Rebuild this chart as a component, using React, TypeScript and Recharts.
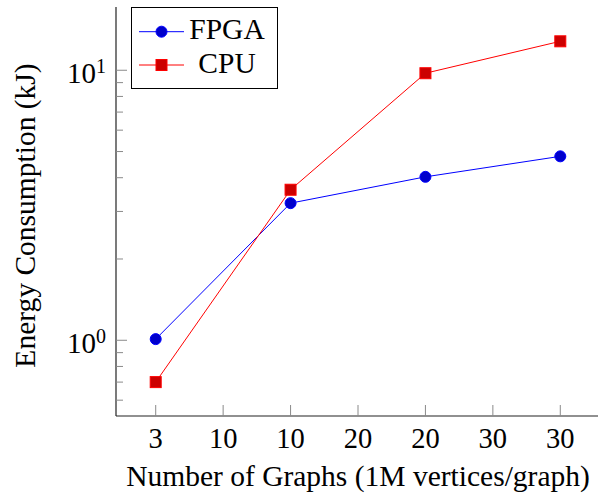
import React from 'react';
import { LineChart, Line, XAxis, YAxis, Legend } from 'recharts';

// ---- data ----
const categories = ['3', '10', '20', '30'];
const xTickLabels = ['3', '10', '10', '20', '20', '30', '30'];
const fpgaValues = [1.01, 3.22, 4.03, 4.8];
const cpuValues = [0.7, 3.61, 9.75, 12.8];
const yMajorTicks = [1, 10];
const yMajorExponents = ['0', '1'];
const yMinorTicks = [0.6, 0.7, 0.8, 0.9, 2, 3, 4, 5, 6, 7, 8, 9];
const seriesNames = ['FPGA', 'CPU'];

const data = categories.map((c, i) => ({ idx: i, label: c, fpga: fpgaValues[i], cpu: cpuValues[i] }));
const xTicks = xTickLabels.map((_, i) => i / 2);
const yTicks = [...yMajorTicks, ...yMinorTicks].sort((a, b) => a - b);

const FONT = '"Liberation Serif", "Times New Roman", serif';
const TICK_COLOR = '#8a8a8a';
const AXIS_COLOR = '#222';
const BLUE = '#0000ff';
const BLUE_FILL = '#0000cc';
const RED = '#ff0000';
const RED_FILL = '#cc0000';
const MARK_R = 5.5;

const BottomTick = (props: any) => {
  const { x, y, payload } = props;
  const label = xTickLabels[Math.round(payload.value * 2)];
  return (
    <g>
      <line x1={x} x2={x} y1={y} y2={y - 11} stroke={TICK_COLOR} strokeWidth={1} />
      <text x={x} y={y + 32} textAnchor="middle" fontSize={28.5} fontFamily={FONT} fill="#000">
        {label}
      </text>
    </g>
  );
};

const TopTick = (props: any) => {
  const { x, y } = props;
  return <line x1={x} x2={x} y1={y} y2={y + 11} stroke={TICK_COLOR} strokeWidth={1} />;
};

const LeftTick = (props: any) => {
  const { x, y, payload } = props;
  const mi = yMajorTicks.indexOf(payload.value);
  const major = mi >= 0;
  return (
    <g>
      <line x1={x} x2={x + (major ? 11 : 7)} y1={y} y2={y} stroke={TICK_COLOR} strokeWidth={1} />
      {major && (
        <text x={x - 10} y={y + 12.7} textAnchor="end" fontSize={29} fontFamily={FONT} fill="#000">
          10
          <tspan dy={-10} fontSize={20}>
            {yMajorExponents[mi]}
          </tspan>
        </text>
      )}
    </g>
  );
};

const RightTick = (props: any) => {
  const { x, y, payload } = props;
  const major = yMajorTicks.indexOf(payload.value) >= 0;
  return <line x1={x} x2={x - (major ? 11 : 7)} y1={y} y2={y} stroke={TICK_COLOR} strokeWidth={1} />;
};

const XTitle = (props: any) => {
  const vb = props.viewBox || { x: 116, y: 416, width: 484, height: 80 };
  return (
    <text x={vb.x + vb.width / 2} y={vb.y + 70} textAnchor="middle" fontSize={29.5} fontFamily={FONT} fill="#000">
      Number of Graphs (1M vertices/graph)
    </text>
  );
};

const YTitle = (props: any) => {
  const vb = props.viewBox || { x: 0, y: 7, width: 116, height: 409 };
  const cx = 35;
  const cy = vb.y + vb.height / 2 + 4;
  return (
    <text
      x={cx}
      y={cy}
      transform={`rotate(-90 ${cx} ${cy})`}
      textAnchor="middle"
      fontSize={29.5}
      fontFamily={FONT}
      fill="#000"
    >
      Energy Consumption (kJ)
    </text>
  );
};

const SquareDot = (props: any) => {
  const { cx, cy } = props;
  if (cx == null || cy == null) return null;
  return (
    <rect x={cx - MARK_R} y={cy - MARK_R} width={MARK_R * 2} height={MARK_R * 2} fill={RED_FILL} stroke={RED} strokeWidth={1} />
  );
};

const LegendBox = () => (
  <div
    style={{
      width: 147,
      height: 82,
      border: '1px solid #000',
      background: '#fff',
      boxSizing: 'border-box',
    }}
  >
    <svg width={145} height={80} style={{ display: 'block' }}>
      <line x1={7} x2={52} y1={23.7} y2={23.7} stroke={BLUE} strokeWidth={1} />
      <circle cx={29.5} cy={23.7} r={MARK_R} fill={BLUE_FILL} stroke={BLUE} strokeWidth={1} />
      <text x={95} y={31.3} textAnchor="middle" fontSize={29.5} fontFamily={FONT} fill="#000">
        {seriesNames[0]}
      </text>
      <line x1={7} x2={52} y1={57} y2={57} stroke={RED} strokeWidth={1} />
      <rect x={29.5 - MARK_R} y={57 - MARK_R} width={MARK_R * 2} height={MARK_R * 2} fill={RED_FILL} stroke={RED} strokeWidth={1} />
      <text x={95} y={65.3} textAnchor="middle" fontSize={29.5} fontFamily={FONT} fill="#000">
        {seriesNames[1]}
      </text>
    </svg>
  </div>
);

export default function App() {
  return (
    <div style={{ position: 'absolute', left: 0, top: 0, width: 598, height: 496, overflow: 'hidden', background: '#fff' }}>
      <LineChart width={610} height={496} data={data} margin={{ top: 7, right: 10, bottom: 0, left: 0 }}>
        <XAxis
          xAxisId="bottom"
          dataKey="idx"
          type="number"
          domain={[-0.2944, 3.2944]}
          ticks={xTicks}
          allowDataOverflow
          height={80}
          tickSize={0}
          tickMargin={0}
          tick={<BottomTick />}
          tickLine={false}
          axisLine={{ stroke: AXIS_COLOR, strokeWidth: 1.2 }}
          interval={0}
          label={<XTitle />}
        />
        <XAxis
          xAxisId="top"
          orientation="top"
          dataKey="idx"
          type="number"
          domain={[-0.2944, 3.2944]}
          ticks={xTicks}
          allowDataOverflow
          height={0}
          tickSize={0}
          tickMargin={0}
          tick={<TopTick />}
          tickLine={false}
          axisLine={{ stroke: AXIS_COLOR, strokeWidth: 1.2 }}
          interval={0}
        />
        <YAxis
          yAxisId="left"
          scale="log"
          type="number"
          domain={[0.5243, 17.15]}
          ticks={yTicks}
          allowDataOverflow
          width={116}
          tickSize={0}
          tickMargin={0}
          tick={<LeftTick />}
          tickLine={false}
          axisLine={{ stroke: AXIS_COLOR, strokeWidth: 1.2 }}
          interval={0}
          label={<YTitle />}
        />
        <YAxis
          yAxisId="right"
          orientation="right"
          scale="log"
          type="number"
          domain={[0.5243, 17.15]}
          ticks={yTicks}
          allowDataOverflow
          width={0}
          tickSize={0}
          tickMargin={0}
          tick={<RightTick />}
          tickLine={false}
          axisLine={{ stroke: AXIS_COLOR, strokeWidth: 1.2 }}
          interval={0}
        />
        <Line
          xAxisId="bottom"
          yAxisId="left"
          dataKey="fpga"
          name={seriesNames[0]}
          stroke={BLUE}
          strokeWidth={1}
          dot={{ r: MARK_R, fill: BLUE_FILL, stroke: BLUE, strokeWidth: 1 }}
          isAnimationActive={false}
        />
        <Line
          xAxisId="bottom"
          yAxisId="left"
          dataKey="cpu"
          name={seriesNames[1]}
          stroke={RED}
          strokeWidth={1}
          dot={<SquareDot />}
          isAnimationActive={false}
        />
        <Legend
          layout="vertical"
          align="center"
          verticalAlign="middle"
          content={<LegendBox />}
          wrapperStyle={{ left: 131, top: 7, width: 147, height: 82 }}
        />
      </LineChart>
    </div>
  );
}
